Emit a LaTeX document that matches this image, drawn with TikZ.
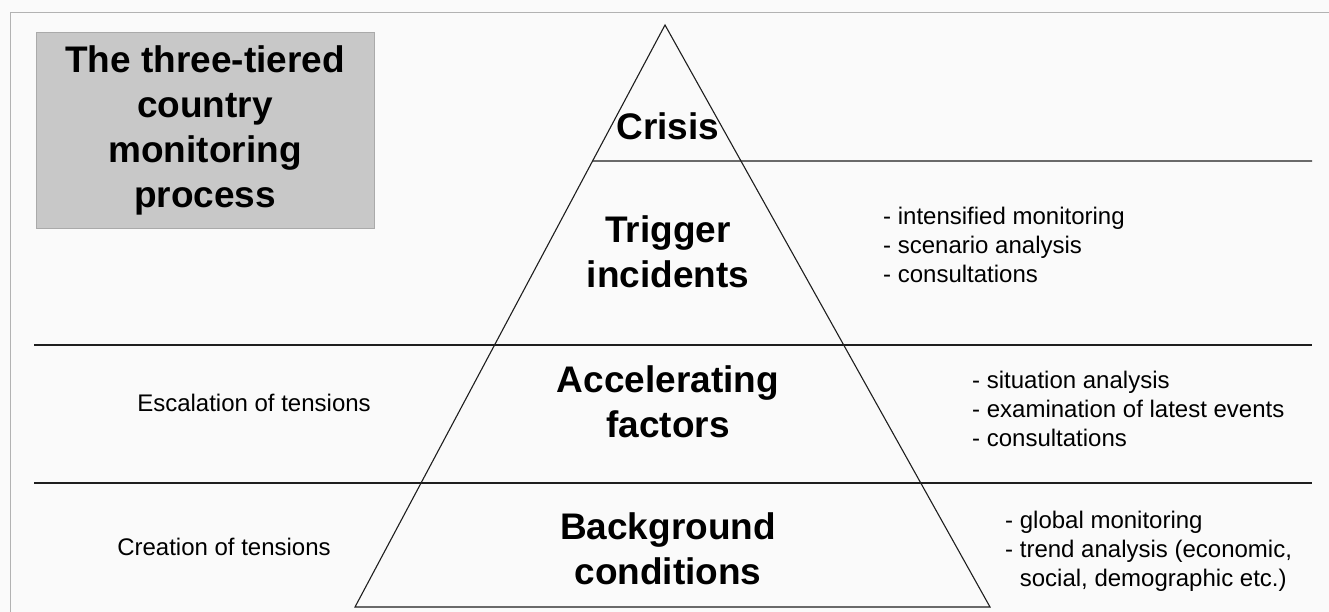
\documentclass[tikz,border=0pt]{standalone}
\usepackage{fontspec}
\setmainfont{Liberation Sans}
\usetikzlibrary{calc}
\definecolor{paper}{RGB}{250,250,250}
\definecolor{boxgray}{RGB}{200,200,200}
\definecolor{ink}{RGB}{30,30,30}
\tikzset{
  tier/.style  ={font=\fontsize{37}{45}\selectfont\bfseries, align=center, inner sep=0pt},
  titlebox/.style={fill=boxgray, draw=boxgray!85!black, line width=0.6pt,
                 minimum width=338pt, minimum height=196pt,
                 font=\fontsize{37}{45}\selectfont\bfseries, align=center},
  note/.style  ={font=\fontsize{24}{29}\selectfont, align=left, anchor=west, inner sep=0pt},
  side/.style  ={font=\fontsize{24}{29}\selectfont, inner sep=0pt},
  rule/.style  ={draw=ink, line width=1.1pt},
  frame/.style ={draw=gray!60, line width=0.8pt},
}

\begin{document}
\begin{tikzpicture}[x=1pt, y=-1pt]
\useasboundingbox[fill=paper] (0,0) rectangle (1329,612);

% outer frame, top and left only
\draw[frame] (1329,12) -- (10,12) -- (10,612);

% pyramid corners
\coordinate (apex) at (665,25);
\coordinate (bl) at (355,607);
\coordinate (br) at (990,607);

% tier separators
\draw[rule] ($(apex)!0.2337!(bl)$) -- (1312,161);
\draw[rule] (34,345) -- (1312,345);
\draw[rule] (34,483) -- (1312,483);

% the pyramid itself
\draw[rule, line join=miter] (apex) -- (bl) -- (br) -- cycle;

% title
\node[titlebox] (title) at (205,130) {The three-tiered\\country\\monitoring\\process};

% tiers
\node[tier] (crisis) at (668,126) {Crisis};
\node[tier] (trigger) at (668,252) {Trigger\\incidents};
\node[tier] (accel) at (668,402) {Accelerating\\factors};
\node[tier] (backgr) at (668,549) {Background\\conditions};

% left-hand phases
\node[side] (escal) at (254,403) {Escalation of tensions};
\node[side] (creat) at (224,547) {Creation of tensions};

% right-hand activities
\node[note] (acttrig) at (883,245) {- intensified monitoring\\- scenario analysis\\- consultations};
\node[note] (actacc) at (972,409) {- situation analysis\\- examination of latest events\\- consultations};
\node[note] (actback) at (1005,551) {- global monitoring\\- trend analysis (economic,\\\phantom{- }social, demographic etc.)};
\end{tikzpicture}
\end{document}
